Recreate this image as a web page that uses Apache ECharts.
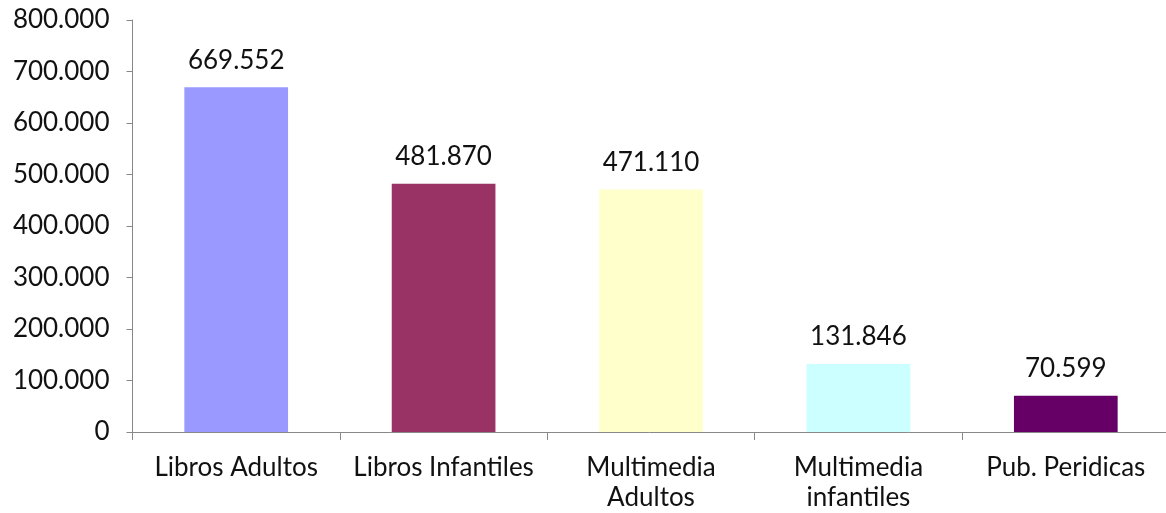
<!DOCTYPE html>
<html><head><meta charset="utf-8">
<script src="https://cdn.jsdelivr.net/npm/echarts@6/dist/echarts.min.js"></script>
<style>html,body{margin:0;padding:0;background:#fff}#c{width:1166px;height:513px}</style>
</head><body><div id="c"></div>
<script>
const categories = ['Libros Adultos', 'Libros Infantiles', 'Multimedia\nAdultos', 'Multimedia\ninfantiles', 'Pub. Peridicas'];
const values = [669552, 481870, 471110, 131846, 70599];
const colors = ['#9999FF', '#993366', '#FFFFCC', '#CCFFFF', '#660066'];

function fmt(v){ return String(v).replace(/\B(?=(\d{3})+(?!\d))/g, '.'); }

const chart = echarts.init(document.getElementById('c'));
chart.setOption({
  animation: false,
  textStyle: {fontFamily: 'Lato'},
  grid: {left: 132.5, width: 1037, top: 20, bottom: 81, containLabel: false, outerBoundsMode: 'none'},
  xAxis: {
    type: 'category', data: categories,
    axisLine: {lineStyle: {color: '#888', width: 1}},
    axisTick: {show: true, length: 8, lineStyle: {color: '#888'}},
    axisLabel: {color: '#111', fontSize: 26, margin: 21, lineHeight: 30, fontFamily: 'Lato', interval: 0}
  },
  yAxis: {
    type: 'value', min: 0, max: 800000, interval: 100000,
    axisLine: {show: true, lineStyle: {color: '#888', width: 1}},
    axisTick: {show: true, length: 6, lineStyle: {color: '#888'}},
    splitLine: {show: false},
    axisLabel: {color: '#111', fontSize: 26, margin: 23, fontFamily: 'Lato', formatter: v => fmt(v)}
  },
  series: [{
    type: 'bar', barWidth: '50%',
    data: values.map((v, i) => ({value: v, itemStyle: {color: colors[i]}})),
    label: {show: true, position: 'top', distance: 14, color: '#111', fontSize: 26, fontFamily: 'Lato', formatter: p => fmt(p.value)}
  }]
});
</script></body></html>
